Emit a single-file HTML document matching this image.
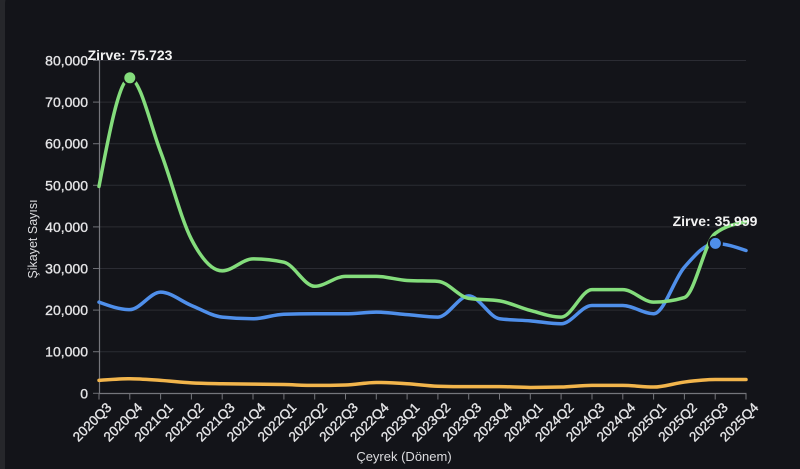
<!DOCTYPE html>
<html>
<head>
<meta charset="utf-8">
<style>
  html,body{margin:0;padding:0;width:800px;height:469px;overflow:hidden;}
  body{background:#26272b;position:relative;font-family:"Liberation Sans",Arial,sans-serif;}
  .card{position:absolute;left:5px;top:-12px;width:810px;height:500px;background:#131419;border-radius:16px;}
  svg{position:absolute;left:0;top:0;}
  .yt{font-size:14px;fill:#e4e4e6;stroke:#e4e4e6;stroke-width:0.35;text-anchor:end;}
  .xt{font-size:13.5px;fill:#e4e4e6;stroke:#e4e4e6;stroke-width:0.35;text-anchor:end;}
  .ttl{font-size:12.5px;fill:#dcdcdf;}
  .ann{font-size:14px;font-weight:bold;fill:#f2f2f2;text-anchor:middle;}
</style>
</head>
<body>
<div class="card"></div>
<svg width="800" height="469" viewBox="0 0 800 469" xmlns="http://www.w3.org/2000/svg">
  <!-- gridlines -->
  <g stroke="#2b2c33" stroke-width="1">
    <line x1="93" y1="60.5" x2="746" y2="60.5"/>
    <line x1="93" y1="102.1" x2="746" y2="102.1"/>
    <line x1="93" y1="143.7" x2="746" y2="143.7"/>
    <line x1="93" y1="185.3" x2="746" y2="185.3"/>
    <line x1="93" y1="226.9" x2="746" y2="226.9"/>
    <line x1="93" y1="268.5" x2="746" y2="268.5"/>
    <line x1="93" y1="310.1" x2="746" y2="310.1"/>
    <line x1="93" y1="351.7" x2="746" y2="351.7"/>
  </g>
  <!-- y ticks -->
  <g stroke="#6c6d73" stroke-width="1">
    <line x1="93" y1="60.5" x2="99" y2="60.5"/>
    <line x1="93" y1="102.1" x2="99" y2="102.1"/>
    <line x1="93" y1="143.7" x2="99" y2="143.7"/>
    <line x1="93" y1="185.3" x2="99" y2="185.3"/>
    <line x1="93" y1="226.9" x2="99" y2="226.9"/>
    <line x1="93" y1="268.5" x2="99" y2="268.5"/>
    <line x1="93" y1="310.1" x2="99" y2="310.1"/>
    <line x1="93" y1="351.7" x2="99" y2="351.7"/>
    <line x1="93" y1="393.3" x2="99" y2="393.3"/>
  </g>
  <!-- axes -->
  <line x1="99.5" y1="60" x2="99.5" y2="393.5" stroke="#75767c" stroke-width="1.2"/>
  <line x1="99" y1="393.5" x2="746.5" y2="393.5" stroke="#75767c" stroke-width="1.2"/>
  <g id="xticks" stroke="#75767c" stroke-width="1"></g>

  <!-- y labels -->
  <text class="yt" x="88" y="65.5">80,000</text>
  <text class="yt" x="88" y="107.1">70,000</text>
  <text class="yt" x="88" y="148.7">60,000</text>
  <text class="yt" x="88" y="190.3">50,000</text>
  <text class="yt" x="88" y="231.9">40,000</text>
  <text class="yt" x="88" y="273.5">30,000</text>
  <text class="yt" x="88" y="315.1">20,000</text>
  <text class="yt" x="88" y="356.7">10,000</text>
  <text class="yt" x="88" y="398.3">0</text>

  <!-- x labels -->
  <g id="xlabels">
    <text class="xt" transform="translate(109,405) rotate(-45)" dy="0.35em">2020Q3</text>
    <text class="xt" transform="translate(139.8,405) rotate(-45)" dy="0.35em">2020Q4</text>
    <text class="xt" transform="translate(170.6,405) rotate(-45)" dy="0.35em">2021Q1</text>
    <text class="xt" transform="translate(201.4,405) rotate(-45)" dy="0.35em">2021Q2</text>
    <text class="xt" transform="translate(232.2,405) rotate(-45)" dy="0.35em">2021Q3</text>
    <text class="xt" transform="translate(263.0,405) rotate(-45)" dy="0.35em">2021Q4</text>
    <text class="xt" transform="translate(293.9,405) rotate(-45)" dy="0.35em">2022Q1</text>
    <text class="xt" transform="translate(324.7,405) rotate(-45)" dy="0.35em">2022Q2</text>
    <text class="xt" transform="translate(355.5,405) rotate(-45)" dy="0.35em">2022Q3</text>
    <text class="xt" transform="translate(386.3,405) rotate(-45)" dy="0.35em">2022Q4</text>
    <text class="xt" transform="translate(417.1,405) rotate(-45)" dy="0.35em">2023Q1</text>
    <text class="xt" transform="translate(448.0,405) rotate(-45)" dy="0.35em">2023Q2</text>
    <text class="xt" transform="translate(478.8,405) rotate(-45)" dy="0.35em">2023Q3</text>
    <text class="xt" transform="translate(509.6,405) rotate(-45)" dy="0.35em">2023Q4</text>
    <text class="xt" transform="translate(540.4,405) rotate(-45)" dy="0.35em">2024Q1</text>
    <text class="xt" transform="translate(571.2,405) rotate(-45)" dy="0.35em">2024Q2</text>
    <text class="xt" transform="translate(602.1,405) rotate(-45)" dy="0.35em">2024Q3</text>
    <text class="xt" transform="translate(632.9,405) rotate(-45)" dy="0.35em">2024Q4</text>
    <text class="xt" transform="translate(663.7,405) rotate(-45)" dy="0.35em">2025Q1</text>
    <text class="xt" transform="translate(694.5,405) rotate(-45)" dy="0.35em">2025Q2</text>
    <text class="xt" transform="translate(725.3,405) rotate(-45)" dy="0.35em">2025Q3</text>
    <text class="xt" transform="translate(756.0,405) rotate(-45)" dy="0.35em">2025Q4</text>
  </g>

  <!-- axis titles -->
  <text class="ttl" transform="translate(37,239) rotate(-90)" text-anchor="middle">Şikayet Sayısı</text>
  <text class="ttl" x="404" y="461" text-anchor="middle" style="font-size:13px">Çeyrek (Dönem)</text>

  <!-- series -->
  <path id="orange" fill="none" stroke="#f2b54c" stroke-width="3.5" stroke-linecap="round" stroke-linejoin="round"/>
  <path id="blue" fill="none" stroke="#4f8fea" stroke-width="3.5" stroke-linecap="round" stroke-linejoin="round"/>
  <path id="green" fill="none" stroke="#84dd7c" stroke-width="3.5" stroke-linecap="round" stroke-linejoin="round"/>

  <!-- peak markers -->
  <circle cx="129.8" cy="77.8" r="6.5" fill="#84dd7c" stroke="#131419" stroke-width="2"/>
  <circle cx="715.4" cy="243.4" r="6.5" fill="#4f8fea" stroke="#131419" stroke-width="2"/>

  <text class="ann" x="130" y="60">Zirve: 75.723</text>
  <text class="ann" x="715" y="226">Zirve: 35.999</text>
</svg>
<script>
(function(){
  var X0=99, DX=30.81, Y0=393.3, K=0.004163;
  function px(i){return X0+i*DX;}
  function py(v){return Y0-v*K;}
  var green=[49700,75723,58000,37000,29400,32300,31500,25700,28100,28100,27100,26900,22800,22200,19900,18300,24900,24900,21900,23000,38400,41200];
  var blue=[21900,20100,24300,21100,18300,17900,19000,19100,19100,19500,18900,18300,23400,17900,17400,16700,21100,21100,19100,30300,35999,34300];
  var orange=[3100,3500,3100,2500,2300,2200,2100,1900,2000,2600,2300,1700,1600,1600,1400,1500,1900,1900,1500,2700,3300,3300];
  function sign(x){return x<0?-1:1;}
  function monotone(vals){
    var n=vals.length,xs=[],ys=[],i;
    for(i=0;i<n;i++){xs.push(px(i));ys.push(py(vals[i]));}
    var t=new Array(n);
    for(i=1;i<n-1;i++){
      var h0=xs[i]-xs[i-1],h1=xs[i+1]-xs[i];
      var s0=(ys[i]-ys[i-1])/h0,s1=(ys[i+1]-ys[i])/h1;
      var p=(s0*h1+s1*h0)/(h0+h1);
      t[i]=(sign(s0)+sign(s1))*Math.min(Math.abs(s0),Math.abs(s1),0.5*Math.abs(p))||0;
    }
    var h=xs[1]-xs[0];
    t[0]=(3*(ys[1]-ys[0])/h-t[1])/2;
    h=xs[n-1]-xs[n-2];
    t[n-1]=(3*(ys[n-1]-ys[n-2])/h-t[n-2])/2;
    var d="M"+xs[0].toFixed(2)+","+ys[0].toFixed(2);
    for(i=0;i<n-1;i++){
      var dx=(xs[i+1]-xs[i])/3;
      d+="C"+(xs[i]+dx).toFixed(2)+","+(ys[i]+dx*t[i]).toFixed(2)+" "+
         (xs[i+1]-dx).toFixed(2)+","+(ys[i+1]-dx*t[i+1]).toFixed(2)+" "+
         xs[i+1].toFixed(2)+","+ys[i+1].toFixed(2);
    }
    return d;
  }
  document.getElementById("green").setAttribute("d",monotone(green));
  document.getElementById("blue").setAttribute("d",monotone(blue));
  document.getElementById("orange").setAttribute("d",monotone(orange));
  var g=document.getElementById("xticks"),ns="http://www.w3.org/2000/svg";
  for(var i=0;i<22;i++){
    var l=document.createElementNS(ns,"line");
    var x=(px(i)).toFixed(1);
    l.setAttribute("x1",x);l.setAttribute("x2",x);
    l.setAttribute("y1","393.5");l.setAttribute("y2","399.5");
    g.appendChild(l);
  }
})();
</script>
</body>
</html>
